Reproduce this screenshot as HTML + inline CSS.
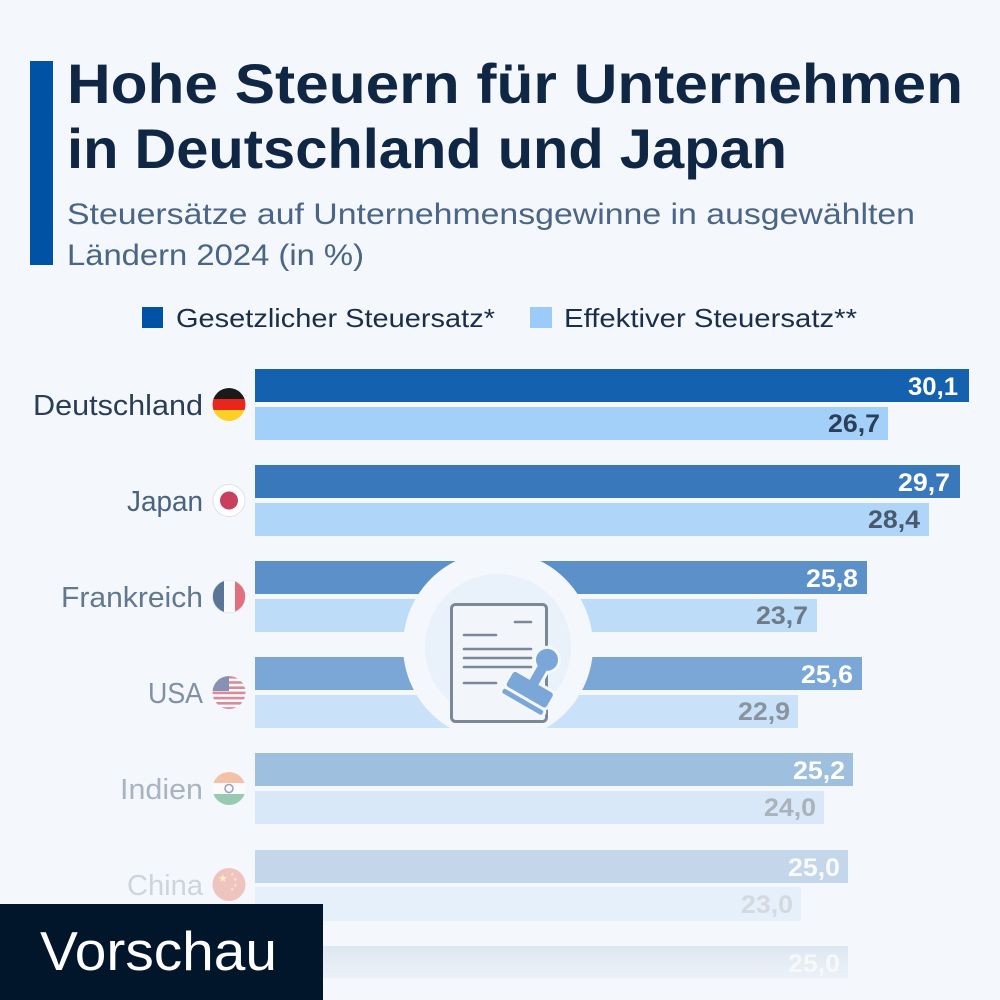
<!DOCTYPE html>
<html><head><meta charset="utf-8"><style>
html,body{margin:0;padding:0;background:#f4f7fb;}
svg{display:block;}
text{font-family:"Liberation Sans",sans-serif;}
</style></head><body>
<svg width="1000" height="1000" viewBox="0 0 1000 1000" xmlns="http://www.w3.org/2000/svg">
<defs>
<clipPath id="c0"><circle cx="229" cy="404.5" r="16.5"/></clipPath>
<clipPath id="c2"><circle cx="229" cy="596.5" r="16.5"/></clipPath>
<clipPath id="c3"><circle cx="229" cy="692.5" r="16.5"/></clipPath>
<clipPath id="c4"><circle cx="229" cy="788.5" r="16.5"/></clipPath>
<clipPath id="c5"><circle cx="229" cy="884.5" r="16.5"/></clipPath>
<linearGradient id="lastg" x1="0" y1="0" x2="0" y2="1"><stop offset="0" stop-color="#dee7f1"/><stop offset="1" stop-color="#ecf1f8"/></linearGradient>
</defs>
<rect width="1000" height="1000" fill="#f4f7fb"/>
<!-- accent bar -->
<rect x="30" y="61" width="23" height="204" fill="#0052a5"/>
<!-- title -->
<text x="67" y="103" font-size="56" font-weight="bold" fill="#0f2744" textLength="896" lengthAdjust="spacingAndGlyphs">Hohe Steuern für Unternehmen</text>
<text x="67" y="168" font-size="56" font-weight="bold" fill="#0f2744" textLength="720" lengthAdjust="spacingAndGlyphs">in Deutschland und Japan</text>
<text x="67" y="224" font-size="30" fill="#4a6585" textLength="848" lengthAdjust="spacingAndGlyphs">Steuersätze auf Unternehmensgewinne in ausgewählten</text>
<text x="67" y="265" font-size="30" fill="#4a6585" textLength="297" lengthAdjust="spacingAndGlyphs">Ländern 2024 (in %)</text>
<!-- legend -->
<rect x="142" y="307" width="21" height="21" fill="#0052a5"/>
<text x="176" y="327" font-size="26" fill="#1a2e4a" textLength="319" lengthAdjust="spacingAndGlyphs">Gesetzlicher Steuersatz*</text>
<rect x="530" y="307" width="22" height="21" fill="#9dcbf9"/>
<text x="564" y="327" font-size="26" fill="#1a2e4a" textLength="293" lengthAdjust="spacingAndGlyphs">Effektiver Steuersatz**</text>

<!-- bars -->
<rect x="255" y="369" width="714" height="33" fill="#1461b0"/>
<rect x="255" y="407" width="633" height="33" fill="#a3d0f8"/>
<rect x="255" y="465" width="705" height="33" fill="#3a78bc"/>
<rect x="255" y="503" width="674" height="33" fill="#afd5f9"/>
<rect x="255" y="561" width="612" height="33" fill="#5b90c8"/>
<rect x="255" y="599" width="562" height="33" fill="#bcdcf8"/>
<rect x="255" y="657" width="607" height="33" fill="#7aa7d5"/>
<rect x="255" y="695" width="543" height="33" fill="#c9e2f9"/>
<rect x="255" y="753" width="598" height="33" fill="#9fbfdf"/>
<rect x="255" y="791" width="569" height="33" fill="#d8e8f8"/>
<rect x="255" y="850" width="593" height="33" fill="#c3d6ea"/>
<rect x="255" y="887" width="546" height="34" fill="#e6f0fa"/>
<rect x="255" y="946" width="593" height="32" fill="url(#lastg)"/>

<!-- icon -->
<circle cx="498" cy="646" r="95" fill="#f4f7fb"/>
<circle cx="498" cy="647" r="73" fill="#e9f1fb"/>
<rect x="451.5" y="604.5" width="95" height="117" rx="4" fill="#f2f6fb" stroke="#7b8898" stroke-width="3"/>
<g stroke="#7b8898" stroke-width="2.6" stroke-linecap="round">
<line x1="515" y1="622" x2="531" y2="622"/>
<line x1="464" y1="635" x2="496" y2="635"/>
<line x1="464" y1="649" x2="531" y2="649"/>
<line x1="464" y1="658" x2="531" y2="658"/>
<line x1="464" y1="667" x2="531" y2="667"/>
<line x1="464" y1="683" x2="496" y2="683"/>
</g>
<g transform="translate(529,691) rotate(30)">
<g fill="#f4f7fb" stroke="#f4f7fb" stroke-width="6" stroke-linejoin="round">
<rect x="-23" y="-10" width="46" height="17" rx="3"/>
<rect x="-23" y="10" width="46" height="5" rx="2"/>
<rect x="-5" y="-27" width="10" height="18"/>
<circle cx="0" cy="-36" r="11"/>
</g>
<g fill="#7ba7d8">
<rect x="-23" y="-10" width="46" height="17" rx="3"/>
<rect x="-23" y="10" width="46" height="5" rx="2"/>
<rect x="-5" y="-27" width="10" height="18"/>
<circle cx="0" cy="-36" r="11"/>
</g>
</g>

<!-- value labels -->
<g font-weight="bold" font-size="25" text-anchor="end">
<text x="958" y="395" fill="#ffffff" textLength="50" lengthAdjust="spacingAndGlyphs">30,1</text>
<text x="880" y="432" fill="#2b3f5a" textLength="52" lengthAdjust="spacingAndGlyphs">26,7</text>
<text x="950" y="491" fill="#ffffff" textLength="52" lengthAdjust="spacingAndGlyphs">29,7</text>
<text x="920" y="528" fill="#4a5a6e" textLength="52" lengthAdjust="spacingAndGlyphs">28,4</text>
<text x="858" y="587" fill="#ffffff" textLength="52" lengthAdjust="spacingAndGlyphs">25,8</text>
<text x="808" y="624" fill="#6d7a88" textLength="52" lengthAdjust="spacingAndGlyphs">23,7</text>
<text x="853" y="683" fill="#ffffff" textLength="52" lengthAdjust="spacingAndGlyphs">25,6</text>
<text x="790" y="720" fill="#8a949e" textLength="52" lengthAdjust="spacingAndGlyphs">22,9</text>
<text x="845" y="779" fill="#ffffff" textLength="52" lengthAdjust="spacingAndGlyphs">25,2</text>
<text x="816" y="816" fill="#aab2ba" textLength="52" lengthAdjust="spacingAndGlyphs">24,0</text>
<text x="840" y="876" fill="#f8fafd" textLength="52" lengthAdjust="spacingAndGlyphs">25,0</text>
<text x="793" y="913" fill="#d3d9df" textLength="52" lengthAdjust="spacingAndGlyphs">23,0</text>
<text x="840" y="972" fill="#f6f8fb" textLength="52" lengthAdjust="spacingAndGlyphs">25,0</text>
</g>

<!-- country labels -->
<g font-size="29" text-anchor="end">
<text x="203" y="415" fill="#2a3d56" textLength="170" lengthAdjust="spacingAndGlyphs">Deutschland</text>
<text x="203" y="511" fill="#4a6380" textLength="76" lengthAdjust="spacingAndGlyphs">Japan</text>
<text x="203" y="607" fill="#627890" textLength="142" lengthAdjust="spacingAndGlyphs">Frankreich</text>
<text x="203" y="703" fill="#8090a5" textLength="55" lengthAdjust="spacingAndGlyphs">USA</text>
<text x="203" y="799" fill="#a8b4c2" textLength="83" lengthAdjust="spacingAndGlyphs">Indien</text>
<text x="203" y="895" fill="#cdd4dd" textLength="76" lengthAdjust="spacingAndGlyphs">China</text>
</g>

<!-- flags -->
<g clip-path="url(#c0)">
<rect x="212" y="388" width="34" height="11" fill="#1a1a1a"/>
<rect x="212" y="399" width="34" height="11" fill="#e8261b"/>
<rect x="212" y="410" width="34" height="12" fill="#fdd023"/>
</g>
<circle cx="229" cy="500.5" r="16" fill="#ffffff" stroke="#dde2e8" stroke-width="1"/>
<circle cx="229" cy="500.5" r="9" fill="#c8405e"/>
<g clip-path="url(#c2)">
<rect x="212" y="580" width="12" height="34" fill="#5b7596"/>
<rect x="224" y="580" width="11" height="34" fill="#f8f9fb"/>
<rect x="235" y="580" width="12" height="34" fill="#e07080"/>
</g>
<circle cx="229" cy="596.5" r="16.5" fill="none" stroke="#e2e6ea" stroke-width="0.8"/>
<g clip-path="url(#c3)" opacity="0.55">
<rect x="212" y="676" width="34" height="34" fill="#ffffff"/>
<rect x="212" y="676" width="34" height="2.6" fill="#c2334a"/>
<rect x="212" y="681.2" width="34" height="2.6" fill="#c2334a"/>
<rect x="212" y="686.4" width="34" height="2.6" fill="#c2334a"/>
<rect x="212" y="691.6" width="34" height="2.6" fill="#c2334a"/>
<rect x="212" y="696.8" width="34" height="2.6" fill="#c2334a"/>
<rect x="212" y="702" width="34" height="2.6" fill="#c2334a"/>
<rect x="212" y="707.2" width="34" height="2.6" fill="#c2334a"/>
<rect x="212" y="676" width="17" height="15" fill="#2e3f7a"/>
</g>
<g clip-path="url(#c4)" opacity="0.45">
<rect x="212" y="772" width="34" height="11" fill="#f08040"/>
<rect x="212" y="783" width="34" height="11" fill="#ffffff"/>
<rect x="212" y="794" width="34" height="12" fill="#2a9050"/>
<circle cx="229" cy="788.5" r="4" fill="none" stroke="#303080" stroke-width="1.5"/>
</g>
<g clip-path="url(#c5)" opacity="0.25">
<rect x="212" y="868" width="34" height="34" fill="#de2910"/>
<text x="218" y="882" font-size="11" fill="#ffde00">★</text>
<text x="230" y="876" font-size="5" fill="#ffde00">★</text>
<text x="233" y="881" font-size="5" fill="#ffde00">★</text>
<text x="233" y="887" font-size="5" fill="#ffde00">★</text>
<text x="230" y="891" font-size="5" fill="#ffde00">★</text>
</g>

<!-- Vorschau -->
<rect x="0" y="904" width="323" height="96" fill="#01152b"/>
<text x="40" y="970" font-size="55" fill="#ffffff" textLength="237" lengthAdjust="spacingAndGlyphs">Vorschau</text>
</svg>
</body></html>
